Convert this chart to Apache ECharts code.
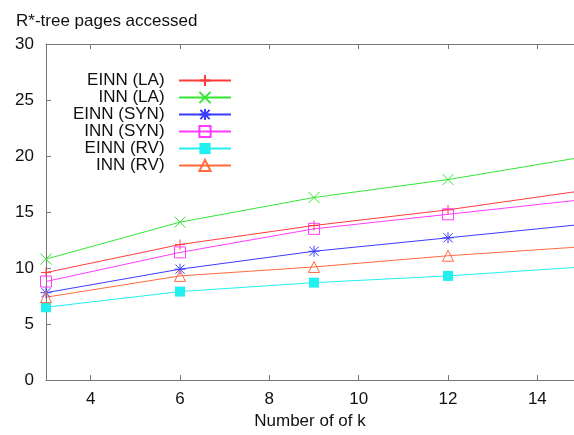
<!DOCTYPE html>
<html>
<head>
<meta charset="UTF-8">
<title>R*-tree pages accessed</title>
<script src="https://cdn.jsdelivr.net/npm/echarts@6/dist/echarts.min.js"></script>
<style>
    html, body { margin: 0; padding: 0; background: #fff; }
    #chart { width: 574px; height: 435px; }
</style>
</head>
<body>
<div id="chart"></div>
<script type="text/javascript">
    // k values (the last one is just past the right edge of the picture)
    var kValues = [3, 6, 9, 12, 15];

    var einnLA  = [9.6, 12.1, 13.8, 15.2, 16.9];
    var innLA   = [10.8, 14.1, 16.3, 17.9, 19.9];
    var einnSYN = [7.8, 9.9, 11.5, 12.7, 13.9];
    var innSYN  = [8.8, 11.4, 13.5, 14.8, 16.1];
    var einnRV  = [6.5, 7.9, 8.7, 9.3, 10.1];
    var innRV   = [7.4, 9.3, 10.1, 11.1, 11.9];

    var seriesNames = ['EINN (LA)', 'INN (LA)', 'EINN (SYN)', 'INN (SYN)', 'EINN (RV)', 'INN (RV)'];

    var font = 'Liberation Sans, Arial, Helvetica, sans-serif';
    var axisGray = '#777';
    var xMax = 14.82;   // picture is cut just before k = 15

    var plusPath  = 'path://M0,-1L0,1M-1,0L1,0';
    var crossPath = 'path://M-1,-1L1,1M1,-1L-1,1';
    var starPath  = 'path://M-1,-1L1,1M1,-1L-1,1M0,-1.2L0,1.2M-1.2,0L1.2,0';

    function pairs(ys) {
        var out = [];
        for (var i = 0; i < kValues.length; i++) {
            out.push([kValues[i], ys[i]]);
        }
        return out;
    }

    function makeSeries(name, ys, color, symbol, size, filled) {
        return {
            name: name,
            type: 'line',
            data: pairs(ys),
            symbol: symbol,
            symbolSize: size,
            showAllSymbol: true,
            clip: true,
            lineStyle: { color: color, width: 1 },
            itemStyle: {
                color: filled ? color : 'rgba(0,0,0,0)',
                borderColor: color,
                borderWidth: filled ? 0 : 1
            },
            emphasis: { disabled: true },
            animation: false
        };
    }

    var chart = echarts.init(document.getElementById('chart'));

    chart.setOption({
        backgroundColor: '#fff',
        animation: false,
        title: {
            text: 'R*-tree pages accessed',
            left: 11,
            top: 8,
            textStyle: { fontFamily: font, fontSize: 17, fontWeight: 'normal', color: '#111' }
        },
        legend: {
            orient: 'vertical',
            align: 'right',
            right: 337,
            top: 67,
            itemWidth: 52,
            itemHeight: 14,
            itemGap: 0,
            data: seriesNames,
            formatter: function (name) { return name + '  '; },
            textStyle: { fontFamily: font, fontSize: 17, color: '#111' }
        },
        grid: {
            left: 46,
            right: 0,
            top: 44,
            bottom: 53.5,
            containLabel: false
        },
        xAxis: [{
            type: 'value',
            min: 3,
            max: xMax,
            splitNumber: 6,
            name: 'Number of of k',
            nameLocation: 'middle',
            nameGap: 31,
            nameTextStyle: { fontFamily: font, fontSize: 17, color: '#111' },
            axisLine: { show: true, lineStyle: { color: axisGray, width: 1 } },
            axisTick: { show: true, inside: true, length: 5, lineStyle: { color: axisGray } },
            axisLabel: {
                margin: 11,
                fontFamily: font,
                fontSize: 17,
                color: '#111',
                showMinLabel: false,
                showMaxLabel: false,
                formatter: function (v) { return v % 2 === 0 ? String(v) : ''; }
            },
            splitLine: { show: false }
        }, {
            type: 'value',
            position: 'top',
            min: 3,
            max: xMax,
            splitNumber: 6,
            axisLine: { show: true, lineStyle: { color: axisGray, width: 1 } },
            axisTick: { show: true, inside: true, length: 5, lineStyle: { color: axisGray } },
            axisLabel: { show: false },
            splitLine: { show: false }
        }],
        yAxis: {
            type: 'value',
            min: 0,
            max: 30,
            interval: 5,
            axisLine: { show: true, lineStyle: { color: axisGray, width: 1 } },
            axisTick: { show: true, inside: true, length: 5, lineStyle: { color: axisGray } },
            axisLabel: { margin: 12, fontFamily: font, fontSize: 17, color: '#111' },
            splitLine: { show: false }
        },
        series: [
            makeSeries(seriesNames[0], einnLA,  '#ff3b3b', plusPath,    10, false),
            makeSeries(seriesNames[1], innLA,   '#33e633', crossPath,   11, false),
            makeSeries(seriesNames[2], einnSYN, '#3b3bff', starPath,    11, false),
            makeSeries(seriesNames[3], innSYN,  '#ff3bff', 'rect',      11, false),
            makeSeries(seriesNames[4], einnRV,  '#22f0f0', 'rect',      10, true),
            makeSeries(seriesNames[5], innRV,   '#ff6a3b', 'triangle',  11, false)
        ]
    });
</script>
</body>
</html>
